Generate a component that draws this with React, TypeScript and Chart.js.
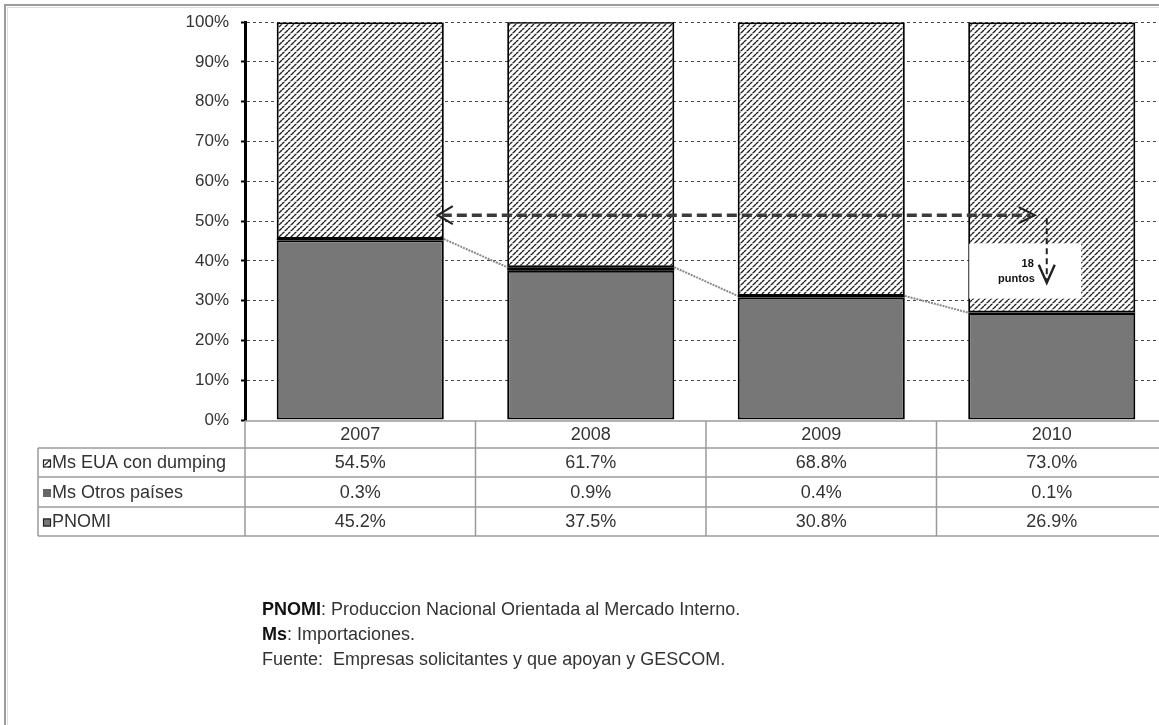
import React, { useEffect, useRef } from "react";
import { Chart, registerables } from "chart.js";

Chart.register(...registerables);

const categories = ["2007", "2008", "2009", "2010"];
const seriesNames = ["Ms EUA con dumping", "Ms Otros países", "PNOMI"];
const euaDumping = [54.5, 61.7, 68.8, 73.0];
const otrosPaises = [0.3, 0.9, 0.4, 0.1];
const pnomi = [45.2, 37.5, 30.8, 26.9];
const yMin = 0;
const yMax = 100;
const yStep = 10;
const arrowLevel = 51.5;
const arrowDropTo = 34.5;
const noteBoxTop = 44.3;
const noteBoxBottom = 30.5;
const noteLines = ["18", "puntos"];
const footnotes: [string, string][] = [
  ["PNOMI", ": Produccion Nacional Orientada al Mercado Interno."],
  ["Ms", ": Importaciones."],
  ["", "Fuente:  Empresas solicitantes y que apoyan y GESCOM."],
];

const FONT = '"Liberation Sans", Arial, sans-serif';
const TEXT = "#333333";

function makeHatchTile() {
  const s = 6;
  const c = document.createElement("canvas");
  c.width = s;
  c.height = s;
  const g = c.getContext("2d")!;
  g.fillStyle = "#ffffff";
  g.fillRect(0, 0, s, s);
  g.strokeStyle = "#222222";
  g.lineWidth = 1.4;
  g.beginPath();
  for (const k of [-s, 0, s]) {
    g.moveTo(k, s);
    g.lineTo(k + s, 0);
  }
  g.stroke();
  g.fillStyle = "rgba(255,255,255,0.85)";
  g.fillRect(0, 3, s, 0.8);
  return c;
}

function line(ctx: CanvasRenderingContext2D, x1: number, y1: number, x2: number, y2: number) {
  ctx.beginPath();
  ctx.moveTo(x1, y1);
  ctx.lineTo(x2, y2);
  ctx.stroke();
}

export default function App() {
  const ref = useRef<HTMLCanvasElement | null>(null);

  useEffect(() => {
    const canvas = ref.current!;
    const ctx0 = canvas.getContext("2d")!;
    const hatch = ctx0.createPattern(makeHatchTile(), "repeat")!;

    const swatchFills: (string | CanvasPattern)[] = [hatch, "#666666", "#777777"];
    const tableRows = [euaDumping, otrosPaises, pnomi];

    const plugin = {
      id: "decor",
      beforeDraw(chart: any) {
        const { ctx, width, height } = chart;
        ctx.save();
        ctx.fillStyle = "#ffffff";
        ctx.fillRect(0, 0, width, height);
        ctx.strokeStyle = "#9c9c9c";
        ctx.lineWidth = 2;
        ctx.strokeRect(5, 5, width + 40, height + 40);
        ctx.strokeStyle = "#dddddd";
        ctx.lineWidth = 1;
        ctx.strokeRect(7.5, 7.5, width + 40, height + 40);
        ctx.restore();
      },
      afterDatasetsDraw(chart: any) {
        const { ctx } = chart;
        const ys = chart.scales.y;
        const mOtros = chart.getDatasetMeta(1);
        const mEua = chart.getDatasetMeta(2);

        // series lines between stacks
        ctx.save();
        ctx.strokeStyle = "#8a8a8a";
        ctx.lineWidth = 2;
        ctx.setLineDash([2, 1]);
        for (let i = 0; i < categories.length - 1; i++) {
          const a = mOtros.data[i];
          const b = mOtros.data[i + 1];
          line(ctx, a.x + a.width / 2, a.y, b.x - b.width / 2, b.y);
        }
        ctx.restore();

        const first = mEua.data[0];
        const last = mEua.data[categories.length - 1];
        const lastLeft = last.x - last.width / 2;

        // white note box
        const bt = ys.getPixelForValue(noteBoxTop);
        const bb = ys.getPixelForValue(noteBoxBottom);
        ctx.save();
        ctx.fillStyle = "#ffffff";
        ctx.fillRect(lastLeft + 1, bt, last.width * 0.67, bb - bt);
        ctx.restore();

        // horizontal double arrow
        const ay = ys.getPixelForValue(arrowLevel);
        const lx = first.x + first.width / 2 - 6;
        const rx = last.x - 17;
        ctx.save();
        ctx.strokeStyle = "#3a3a3a";
        ctx.lineWidth = 3.5;
        ctx.setLineDash([10, 5]);
        line(ctx, lx + 4, ay, rx - 4, ay);
        ctx.setLineDash([]);
        ctx.lineWidth = 2.2;
        ctx.strokeStyle = "#222222";
        ctx.beginPath();
        ctx.moveTo(lx + 15, ay - 9);
        ctx.lineTo(lx, ay);
        ctx.lineTo(lx + 15, ay + 9);
        ctx.moveTo(rx - 16, ay - 8);
        ctx.lineTo(rx, ay);
        ctx.lineTo(rx - 16, ay + 8);
        ctx.stroke();

        // vertical down arrow
        const vx = last.x - 5;
        const vy2 = ys.getPixelForValue(arrowDropTo);
        ctx.lineWidth = 2;
        ctx.setLineDash([6, 4]);
        line(ctx, vx, ay + 3, vx, vy2 - 2);
        ctx.setLineDash([]);
        ctx.lineWidth = 2.4;
        ctx.beginPath();
        ctx.moveTo(vx - 8, vy2 - 18);
        ctx.lineTo(vx, vy2);
        ctx.lineTo(vx + 8, vy2 - 18);
        ctx.stroke();

        // note text
        ctx.fillStyle = "#111111";
        ctx.font = "bold 11px " + FONT;
        ctx.textAlign = "right";
        ctx.textBaseline = "middle";
        ctx.fillText(noteLines[0], rx - 1, bt + 20);
        ctx.fillText(noteLines[1], rx, bt + 35);
        ctx.restore();
      },
      afterDraw(chart: any) {
        const { ctx, chartArea } = chart;
        const xs = chart.scales.x;
        const n = categories.length;
        const colW = (xs.right - xs.left) / n;
        const rowH = [27, 29, 30, 29];
        const yy = [chartArea.bottom + 1];
        rowH.forEach((h) => yy.push(yy[yy.length - 1] + h));
        const tableLeft = 38;
        const right = chart.width;

        ctx.save();
        ctx.strokeStyle = "#9a9a9a";
        ctx.lineWidth = 1.5;
        line(ctx, xs.left, yy[0], right, yy[0]);
        for (let k = 1; k < yy.length; k++) line(ctx, tableLeft, yy[k], right, yy[k]);
        line(ctx, tableLeft, yy[1], tableLeft, yy[yy.length - 1]);
        for (let c = 0; c <= n; c++) {
          const xx = xs.left + c * colW;
          line(ctx, xx, yy[0], xx, yy[yy.length - 1]);
        }

        ctx.fillStyle = TEXT;
        ctx.font = "18px " + FONT;
        ctx.textBaseline = "middle";
        ctx.textAlign = "center";
        categories.forEach((c, i) => {
          ctx.fillText(c, xs.getPixelForValue(i), (yy[0] + yy[1]) / 2 + 1);
        });
        tableRows.forEach((vals, r) => {
          const cy = (yy[r + 1] + yy[r + 2]) / 2 + 1;
          ctx.textAlign = "center";
          ctx.fillStyle = TEXT;
          vals.forEach((v, i) => {
            ctx.fillText(v.toFixed(1) + "%", xs.getPixelForValue(i), cy);
          });
          // swatch
          ctx.fillStyle = swatchFills[r];
          ctx.fillRect(43, cy - 4, 8, 8);
          if (r !== 1) {
            ctx.strokeStyle = "#222222";
            ctx.lineWidth = 1.2;
            ctx.strokeRect(43.5, cy - 3.5, 7, 7);
          }
          ctx.fillStyle = TEXT;
          ctx.textAlign = "left";
          ctx.fillText(seriesNames[r], 52, cy);
        });
        ctx.restore();
      },
    };

    const chart = new Chart(canvas, {
      type: "bar",
      data: {
        labels: categories,
        datasets: [
          {
            label: seriesNames[2],
            data: pnomi,
            backgroundColor: "#777777",
            borderColor: "#000000",
            borderWidth: 2,
            borderSkipped: false,
          },
          {
            label: seriesNames[1],
            data: otrosPaises,
            backgroundColor: "#000000",
            borderColor: "#000000",
            borderWidth: 0,
            borderSkipped: false,
          },
          {
            label: seriesNames[0],
            data: euaDumping,
            backgroundColor: hatch,
            borderColor: "#000000",
            borderWidth: 2,
            borderSkipped: false,
          },
        ],
      },
      options: {
        animation: false,
        responsive: false,
        events: [],
        devicePixelRatio: 1,
        layout: { padding: { left: 0, top: 20, right: 33, bottom: 305 } },
        datasets: { bar: { barPercentage: 0.725, categoryPercentage: 1 } },
        plugins: { legend: { display: false }, tooltip: { enabled: false } },
        scales: {
          x: { display: false, stacked: true },
          y: {
            stacked: true,
            min: yMin,
            max: yMax,
            afterFit: (s: any) => {
              s.width = 245;
            },
            ticks: {
              stepSize: yStep,
              padding: 12,
              color: TEXT,
              font: { family: FONT, size: 17 },
              callback: (v: any) => v + "%",
            },
            grid: {
              color: (c: any) => (c.tick && c.tick.value === 0 ? "rgba(0,0,0,0)" : "#4a4a4a"),
              lineWidth: 1,
              tickLength: 4,
              tickColor: "#000000",
              tickWidth: 2,
            },
            border: { display: true, color: "#000000", width: 3, dash: [3, 3] },
          },
        },
      },
      plugins: [plugin],
    } as any);

    return () => chart.destroy();
  }, []);

  return (
    <div
      style={{
        position: "absolute",
        left: 0,
        top: 0,
        width: 1159,
        height: 725,
        overflow: "hidden",
        background: "#fff",
      }}
    >
      <canvas ref={ref} width={1200} height={725} style={{ width: 1200, height: 725, display: "block" }} />
      <div
        style={{
          position: "absolute",
          left: 262,
          top: 597,
          fontFamily: FONT,
          fontSize: 18,
          lineHeight: "25px",
          color: TEXT,
          whiteSpace: "pre",
        }}
      >
        {footnotes.map(([b, t], i) => (
          <div key={i}>
            {b ? <b style={{ color: "#111" }}>{b}</b> : null}
            {t}
          </div>
        ))}
      </div>
    </div>
  );
}
